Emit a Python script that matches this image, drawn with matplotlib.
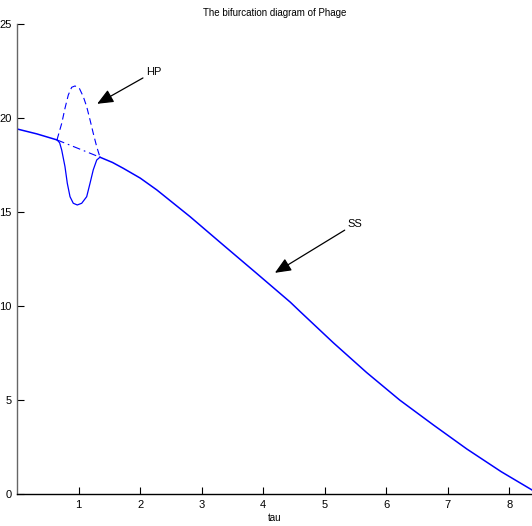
import matplotlib
matplotlib.use("Agg")
import matplotlib.pyplot as plt

plt.rcParams['font.family'] = ['Liberation Sans Narrow', 'Liberation Sans', 'DejaVu Sans']

# Stable steady state, left of the first Hopf point
ss1_tau = [0.0, 0.32, 0.647]
ss1_val = [19.43, 19.17, 18.85]

# Unstable steady state between the two Hopf points
uss_tau = [0.647, 1.346]
uss_val = [18.85, 17.93]

# Stable steady state, right of the second Hopf point
ss2_tau = [1.346, 1.55, 1.725, 2.0, 2.27, 2.81, 3.35, 3.89, 4.44, 4.60, 5.14,
           5.68, 6.22, 6.77, 7.31, 7.87, 8.37]
ss2_val = [17.93, 17.65, 17.34, 16.82, 16.19, 14.77, 13.26, 11.76, 10.22, 9.72,
           8.06, 6.48, 5.01, 3.68, 2.41, 1.20, 0.23]

# Periodic orbit: maximum amplitude
pmax_tau = [0.647, 0.724, 0.777, 0.831, 0.886, 0.940, 1.010, 1.075, 1.130,
            1.184, 1.237, 1.293, 1.346]
pmax_val = [18.85, 19.73, 20.53, 21.24, 21.65, 21.72, 21.60, 21.15, 20.62,
            19.92, 19.20, 18.49, 17.93]

# Periodic orbit: minimum amplitude
pmin_tau = [0.647, 0.690, 0.724, 0.777, 0.815, 0.859, 0.912, 0.977, 1.049,
            1.130, 1.184, 1.237, 1.293, 1.346]
pmin_val = [18.85, 18.70, 18.31, 17.43, 16.54, 15.83, 15.48, 15.39, 15.48,
            15.83, 16.54, 17.26, 17.78, 17.93]

xticks = [1, 2, 3, 4, 5, 6, 7, 8]
yticks = [0, 5, 10, 15, 20, 25]

fig = plt.figure(figsize=(5.32, 5.26), dpi=100)
ax = fig.add_axes([0.0323, 0.0603, 0.9677, 0.8935])

blue = (0, 0, 1)
ax.plot(ss1_tau, ss1_val, color=blue, lw=1.1, solid_joinstyle='round')
ax.plot(uss_tau, uss_val, color=blue, lw=0.8, linestyle=(0, (7, 3.5, 1.5, 3.5)))
ax.plot(ss2_tau, ss2_val, color=blue, lw=1.1, solid_joinstyle='round')
ax.plot(pmax_tau, pmax_val, color=blue, lw=0.8, linestyle=(0, (6, 3.5)))
ax.plot(pmin_tau, pmin_val, color=blue, lw=0.9, solid_joinstyle='round')

ax.set_xlim(0, 8.37)
ax.set_ylim(0, 25)
ax.set_xticks(xticks)
ax.set_yticks(yticks)
ax.tick_params(direction='in', length=5, width=0.8, labelsize=8, pad=4)

for s in ('top', 'right'):
    ax.spines[s].set_visible(False)
ax.spines['left'].set_color('0.4')
ax.spines['left'].set_linewidth(1.0)
ax.spines['bottom'].set_linewidth(1.0)

ax.set_title('The bifurcation diagram of Phage', fontsize=7, pad=6)
ax.set_xlabel('tau', fontsize=7, labelpad=2)

arrow = dict(arrowstyle='-|>,head_length=0.7,head_width=0.3', color='black',
             lw=0.9, mutation_scale=14, shrinkA=0, shrinkB=0)
ax.annotate('HP', xy=(1.30, 20.77), xytext=(2.09, 22.46), fontsize=8,
            ha='left', va='center', arrowprops=arrow)
ax.annotate('SS', xy=(4.19, 11.78), xytext=(5.37, 14.38), fontsize=8,
            ha='left', va='center', arrowprops=arrow)

fig.savefig('out.png', dpi=100)
